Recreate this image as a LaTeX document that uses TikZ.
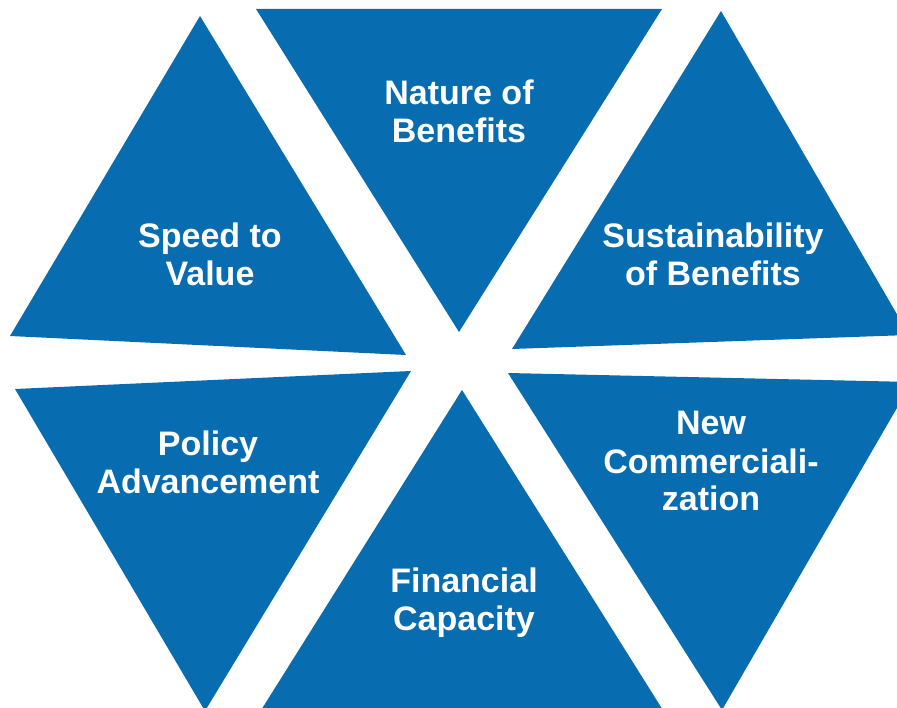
\documentclass[tikz,border=0pt]{standalone}
\usepackage{fontspec}
\setmainfont{Liberation Sans}
\definecolor{triblue}{RGB}{7,108,176}
\begin{document}
\begin{tikzpicture}[x=1pt,y=-1pt,
  tri/.style={fill=triblue,draw=none},
  lbl/.style={text=white,font=\fontsize{34}{38}\selectfont\bfseries,anchor=base,inner sep=0pt}]
\useasboundingbox (0,0) rectangle (897,708);
\begin{scope}
\clip (0,0) rectangle (897,708);
% Nature of Benefits
\fill[tri] (256,9) coordinate (a1) -- (662,9) coordinate (a2) -- (459,332) coordinate (a3) -- cycle;
% Speed to Value
\fill[tri] (200,16) coordinate (b1) -- (10,336) coordinate (b2) -- (406,355) coordinate (b3) -- cycle;
% Sustainability of Benefits
\fill[tri] (721,11) coordinate (c1) -- (512,349) coordinate (c2) -- (909,335) coordinate (c3) -- cycle;
% Policy Advancement
\fill[tri] (15,389) coordinate (d1) -- (411,371) coordinate (d2) -- (205,711) coordinate (d3) -- cycle;
% New Commercialization
\fill[tri] (508,373) coordinate (e1) -- (912,382) coordinate (e2) -- (722,710) coordinate (e3) -- cycle;
% Financial Capacity
\fill[tri] (462,390) coordinate (f1) -- (258,715) coordinate (f2) -- (666,715) coordinate (f3) -- cycle;
\end{scope}
\node[lbl] (t1a) at (459,105) {Nature of};
\node[lbl] (t1b) at (459,143) {Benefits};
\node[lbl] (t2a) at (210,248) {Speed to};
\node[lbl] (t2b) at (210,286) {Value};
\node[lbl] (t3a) at (713,248) {Sustainability};
\node[lbl] (t3b) at (713,286) {of Benefits};
\node[lbl] (t4a) at (208,455) {Policy};
\node[lbl] (t4b) at (208,493) {Advancement};
\node[lbl] (t5a) at (711,435) {New};
\node[lbl] (t5b) at (711,473) {Commerciali-};
\node[lbl] (t5c) at (711,510) {zation};
\node[lbl] (t6a) at (464,592) {Financial};
\node[lbl] (t6b) at (464,630) {Capacity};
\end{tikzpicture}
\end{document}
